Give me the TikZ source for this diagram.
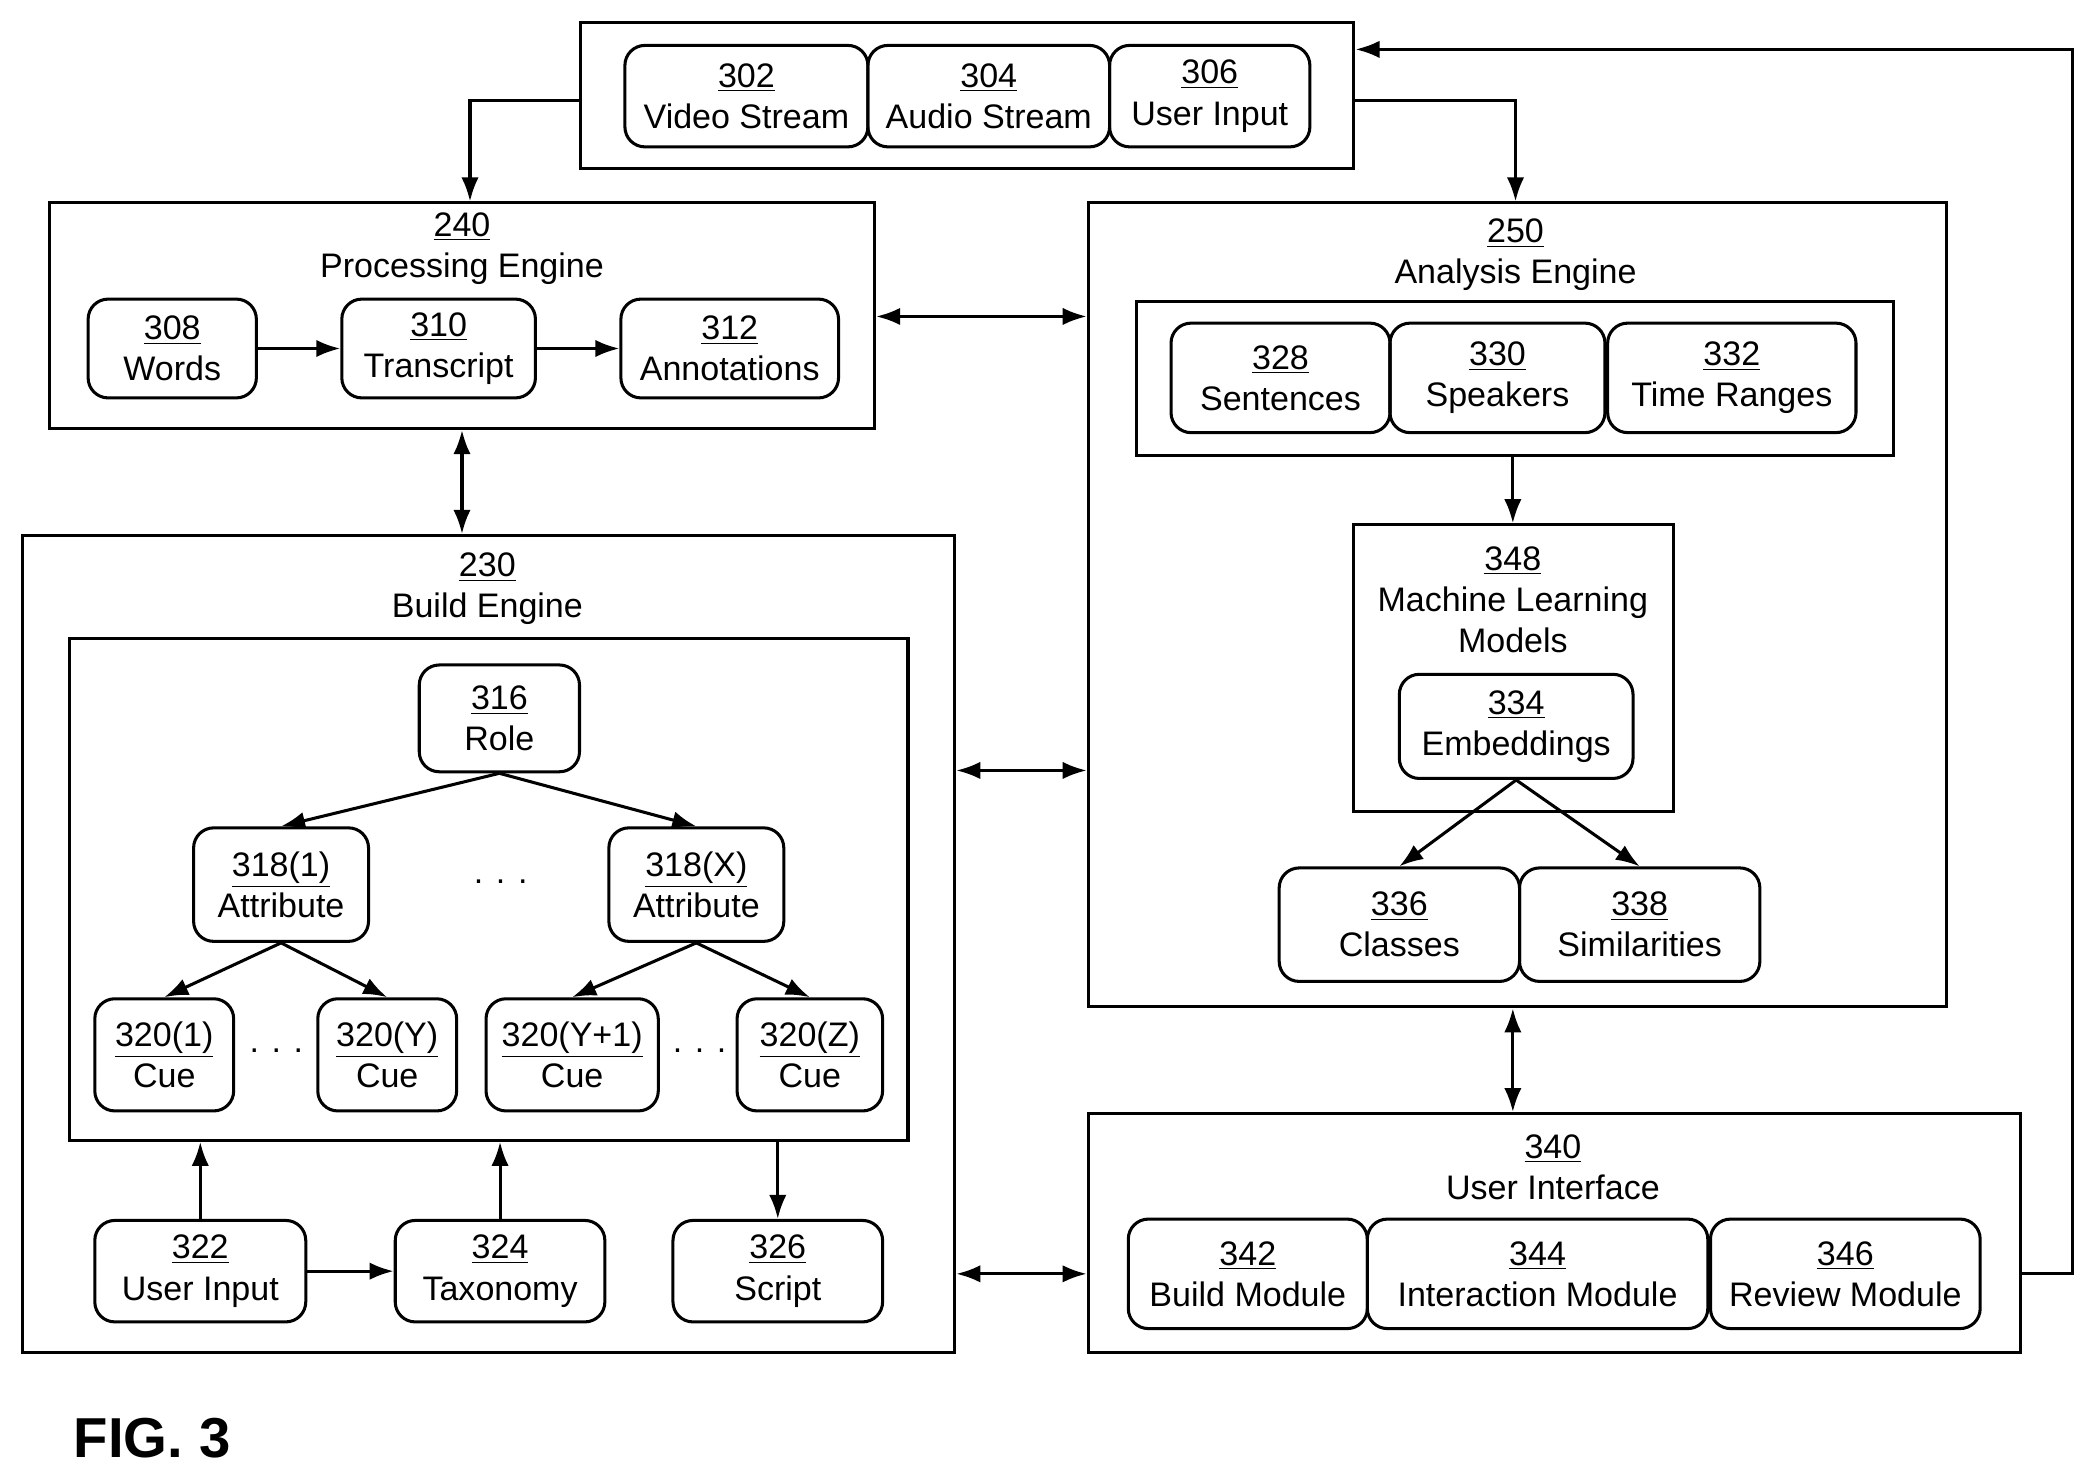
\documentclass[tikz,border=0pt]{standalone}
\usepackage{fontspec}
\setmainfont{Liberation Sans}
\usetikzlibrary{arrows.meta}
\begin{document}
\begin{tikzpicture}[x=0.02cm,y=-0.02cm,
  every node/.style={font=\fontsize{14.5}{17.5}\selectfont, align=center, inner sep=0pt},
  rb/.style={draw, line width=1.3pt, rounded corners=0.3cm},
  sb/.style={draw, line width=1.3pt},
  ar/.style={line width=1.3pt, -{Latex[length=0.36cm,width=0.26cm]}},
  dar/.style={line width=1.3pt, {Latex[length=0.36cm,width=0.26cm]}-{Latex[length=0.36cm,width=0.26cm]}}]
\newcommand\bx[7]{\node[#7, minimum width={(#4-#2)*0.02cm}, minimum height={(#5-#3)*0.02cm}] (#1) at ({(#2+#4)/2},{(#3+#5)/2}) {#6};}
\newcommand\lbl[3]{\node (#1) at (#2) {#3};}
\useasboundingbox (0,0) rectangle (1560,1102);
% top
\bx{top}{435}{17}{1014}{126}{}{sb}
\bx{b302}{468}{34}{650}{110}{\underline{302}\\Video Stream}{rb}
\bx{b304}{650}{34}{831}{110}{\underline{304}\\Audio Stream}{rb}
\bx{b306}{831}{34}{981}{110}{\underline{306}\\User Input}{rb}
% 240
\bx{pe}{37}{152}{655}{321}{}{sb}
\lbl{t240}{346,186}{\underline{240}\\Processing Engine}
\bx{b308}{66}{224}{192}{298}{\underline{308}\\Words}{rb}
\bx{b310}{256}{224}{401}{298}{\underline{310}\\Transcript}{rb}
\bx{b312}{465}{224}{628}{298}{\underline{312}\\Annotations}{rb}
% 250
\bx{ae}{815}{152}{1458}{754}{}{sb}
\lbl{t250}{1135,191}{\underline{250}\\Analysis Engine}
\bx{ain}{851}{226}{1418}{341}{}{sb}
\bx{b328}{877}{242}{1041}{324}{\underline{328}\\Sentences}{rb}
\bx{b330}{1041}{242}{1202}{324}{\underline{330}\\Speakers}{rb}
\bx{b332}{1204}{242}{1390}{324}{\underline{332}\\Time Ranges}{rb}
\bx{ml}{1014}{393}{1253}{608}{}{sb}
\lbl{t348}{1133,449}{\underline{348}\\Machine Learning\\Models}
\bx{b334}{1048}{505}{1223}{583}{\underline{334}\\Embeddings}{rb}
\bx{b336}{958}{650}{1138}{735}{\underline{336}\\Classes}{rb}
\bx{b338}{1138}{650}{1318}{735}{\underline{338}\\Similarities}{rb}
% 230
\bx{be}{17}{401}{715}{1013}{}{sb}
\lbl{t230}{365,441}{\underline{230}\\Build Engine}
\bx{bin}{52}{478}{680}{854}{}{sb}
\bx{b316}{314}{498}{434}{578}{\underline{316}\\Role}{rb}
\bx{b318a}{145}{620}{276}{705}{\underline{318(1)}\\Attribute}{rb}
\bx{b318x}{456}{620}{587}{705}{\underline{318(X)}\\Attribute}{rb}
\lbl{d1}{375,660}{. . .}
\bx{c1}{71}{748}{175}{832}{\underline{320(1)}\\Cue}{rb}
\bx{cy}{238}{748}{342}{832}{\underline{320(Y)}\\Cue}{rb}
\bx{cy1}{364}{748}{493}{832}{\underline{320(Y+1)}\\Cue}{rb}
\bx{cz}{552}{748}{661}{832}{\underline{320(Z)}\\Cue}{rb}
\lbl{d2}{207,787}{. . .}
\lbl{d3}{524,787}{. . .}
\bx{b322}{71}{914}{229}{990}{\underline{322}\\User Input}{rb}
\bx{b324}{296}{914}{453}{990}{\underline{324}\\Taxonomy}{rb}
\bx{b326}{504}{914}{661}{990}{\underline{326}\\Script}{rb}
% 340
\bx{ui}{815}{834}{1513}{1013}{}{sb}
\lbl{t340}{1163,874}{\underline{340}\\User Interface}
\bx{b342}{845}{913}{1024}{995}{\underline{342}\\Build Module}{rb}
\bx{b344}{1024}{913}{1279}{995}{\underline{344}\\Interaction Module}{rb}
\bx{b346}{1281}{913}{1483}{995}{\underline{346}\\Review Module}{rb}
\node[font=\fontsize{24}{28}\selectfont\bfseries, anchor=west] (fig) at (55,1077) {FIG. 3};
% connectors
\coordinate (k1) at (352,75); \coordinate (k2) at (1135,75);
\draw[ar] (top.west |- k1) -| (pe.north -| k1);
\draw[ar] (top.east |- k2) -| (ae.north -| k2);
\coordinate (k3) at (0,237);
\draw[dar] (pe.east |- k3) -- (ae.west |- k3);
\coordinate (k4) at (346,0);
\draw[dar] (pe.south -| k4) -- (be.north -| k4);
\coordinate (k5) at (0,577);
\draw[dar] (be.east |- k5) -- (ae.west |- k5);
\coordinate (k6) at (0,954);
\draw[dar] (be.east |- k6) -- (ui.west |- k6);
\coordinate (k7) at (1133,0);
\draw[dar] (ae.south -| k7) -- (ui.north -| k7);
\coordinate (k8) at (1552,37);
\draw[ar] (ui.east |- k6) -| (k8) -- (top.east |- k8);
\draw[ar] (ain.south -| k7) -- (ml.north -| k7);
\draw[ar] (b334.south) -- (b336.north);
\draw[ar] (b334.south) -- (b338.north);
\draw[ar] (b308) -- (b310);
\draw[ar] (b310) -- (b312);
\draw[ar] (b316.south) -- (b318a.north);
\draw[ar] (b316.south) -- (b318x.north);
\draw[ar] (b318a.south) -- (c1.north);
\draw[ar] (b318a.south) -- (cy.north);
\draw[ar] (b318x.south) -- (cy1.north);
\draw[ar] (b318x.south) -- (cz.north);
\draw[ar] (b322.north) -- (b322.north |- bin.south);
\draw[ar] (b324.north) -- (b324.north |- bin.south);
\draw[ar] (b326.north |- bin.south) -- (b326.north);
\draw[ar] (b322) -- (b324);
\end{tikzpicture}
\end{document}
